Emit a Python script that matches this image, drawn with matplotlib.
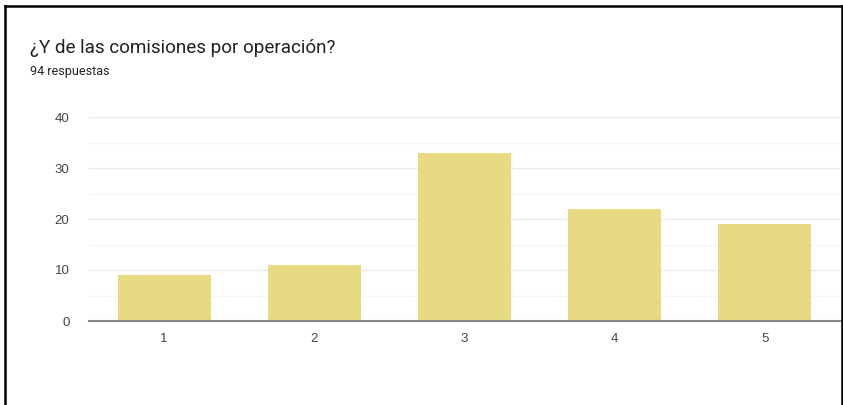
import matplotlib
matplotlib.use("Agg")
import matplotlib.pyplot as plt
from matplotlib.lines import Line2D

# Datos
categories = ["1", "2", "3", "4", "5"]
counts = [9, 11, 33, 22, 19]
title = "¿Y de las comisiones por operación?"
subtitle = "94 respuestas"

fig = plt.figure(figsize=(8.43, 4.05), dpi=100)
fig.patch.set_facecolor("white")

W, H = 843, 405
ax = fig.add_axes([89 / W, 84 / H, (840 - 89) / W, (321 - 117) / H])

x = list(range(1, len(categories) + 1))
ax.bar(x, counts, width=0.62, color="#e8da83", zorder=3)

ax.set_xlim(0.5, 5.5)
ax.set_ylim(0, 40)
ax.set_yticks([0, 10, 20, 30, 40])
ax.set_yticks([5, 15, 25, 35], minor=True)
ax.set_xticks(x)
ax.set_xticklabels(categories)

ax.grid(axis="y", which="major", color="#ebebeb", linewidth=1, zorder=0)
ax.grid(axis="y", which="minor", color="#f5f5f5", linewidth=1, zorder=0)
for s in ["top", "right", "left"]:
    ax.spines[s].set_visible(False)
ax.spines["bottom"].set_color("#888888")
ax.spines["bottom"].set_linewidth(1.5)
ax.spines["bottom"].set_zorder(4)

ax.tick_params(axis="both", which="both", length=0, labelsize=9.5,
               labelcolor="#444444")
ax.tick_params(axis="y", pad=14)
ax.tick_params(axis="x", pad=9)
for lbl in ax.get_xticklabels() + ax.get_yticklabels():
    lbl.set_family("Liberation Sans")

fig.text(30 / W, 1 - 48 / H, title, fontsize=13.6, color="#222222",
         family="Roboto", va="center", ha="left")
fig.text(30 / W, 1 - 72 / H, subtitle, fontsize=9, color="#222222",
         family="Roboto", va="center", ha="left")

# marco negro de la captura
fig.add_artist(Line2D([4.5 / W, 4.5 / W], [0, 1 - 6 / H], color="black",
                      linewidth=1.8, transform=fig.transFigure))
fig.add_artist(Line2D([4.5 / W, 841.5 / W], [1 - 6 / H, 1 - 6 / H],
                      color="black", linewidth=1.8, transform=fig.transFigure))
fig.add_artist(Line2D([841.5 / W, 841.5 / W], [0, 1 - 6 / H], color="black",
                      linewidth=1.8, transform=fig.transFigure))

fig.savefig("out.png", dpi=100, facecolor="white")
